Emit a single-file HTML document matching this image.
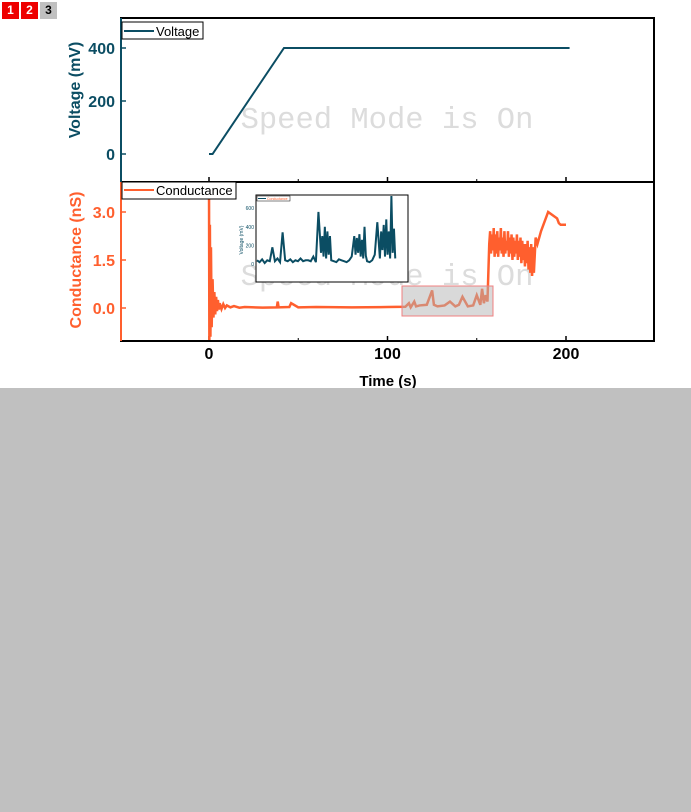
<!DOCTYPE html>
<html><head><meta charset="utf-8"><style>
body{margin:0;width:691px;height:812px;background:#fff;overflow:hidden;font-family:"Liberation Sans",sans-serif}
#gray{position:absolute;left:0;top:388px;width:691px;height:424px;background:#c0c0c0}
.tab{position:absolute;top:2px;width:17px;height:17px;font:bold 12px "Liberation Sans",sans-serif;text-align:center;line-height:17px}
</style></head><body>
<div class="tab" style="left:2px;background:#e00;color:#fff">1</div>
<div class="tab" style="left:21px;background:#e00;color:#fff">2</div>
<div class="tab" style="left:40px;background:#c0c0c0;color:#000">3</div>
<div id="gray"></div>
<svg id="c" width="691" height="388" style="position:absolute;left:0;top:0"></svg>
<script>
const xTicks=[0,100,200];
const vTicks=[0,200,400];
const gTicks=[0.0,1.5,3.0];
const vT=[0,2,42,202];
const vV=[0,0,400,400];
const gT=[0,0.2,0.5,0.8,1.1,1.5,2,2.5,3,3.5,4,4.5,5,5.5,6,7,8,9,10,12,14,17,20,30,38,38.5,39,45,46,50,60,80,100,110,112,113,115,116,118,122,125,126,128,132,135,138,140,142,145,148,150,152,153,154,155,156,157,157.5,158,158.5,159,159.5,160,160.5,161,161.5,162,162.5,163,163.5,164,164.5,165,165.5,166,166.5,167,167.5,168,168.5,169,169.5,170,170.5,171,171.5,172,172.5,173,173.5,174,174.5,175,175.5,176,176.5,177,177.5,178,178.5,179,179.5,180,180.5,181,181.5,182,183,184,186,190,195,196,197,200];
const gV=[3.9,-1,2.6,-0.9,1.9,-0.6,0.9,-0.3,0.5,-0.2,0.35,-0.1,0.25,-0.05,0.15,-0.03,0.12,0.0,0.08,0.02,0.06,0.01,0.03,0.01,0.02,0.2,0.02,0.03,0.15,0.02,0.03,0.02,0.03,0.04,0.15,0.02,0.2,0.05,0.08,0.1,0.55,0.1,0.05,0.08,0.2,0.05,0.1,0.35,0.05,0.08,0.4,0.1,0.6,0.15,0.4,0.2,2.0,2.4,1.7,2.3,1.8,2.5,1.6,2.3,1.7,2.4,1.6,2.2,1.8,2.5,1.7,2.2,1.6,2.4,1.7,2.1,1.8,2.4,1.6,2.2,1.7,2.3,1.5,2.2,1.6,2.1,1.7,2.3,1.5,2.1,1.6,2.2,1.4,2.1,1.5,2.0,1.3,2.0,1.4,2.1,1.2,1.9,1.1,2.0,1.0,1.9,1.1,2.2,2.0,2.4,3.0,2.8,2.65,2.6,2.6,2.7,2.7,2.7];
const insT=[0,2,4,6,8,10,12,14,16,18,20,22,24,26,28,30,32,34,36,38,40,42,44,46,48,50,51,52,53,54,55,56,57,58,60,62,64,66,68,70,72,74,76,77,78,79,80,81,82,83,84,85,86,88,90,92,94,96,97,98,99,100,101,102,103,104,105,106,107,108];
const insV=[40,20,50,10,40,30,180,30,60,20,340,40,30,50,20,40,30,60,30,40,40,30,80,20,560,120,300,80,400,60,350,100,300,40,30,20,50,40,30,20,40,80,300,100,280,120,320,80,260,60,400,90,30,20,40,100,450,60,350,150,420,80,480,100,350,60,800,120,380,60];
const X=t=>209+t*1.785, YV=v=>154-v*0.265, YG=g=>308-g*32;
const IX=t=>257+t*1.28, IY=v=>264-v*0.093;
const s=document.getElementById('c'),NS='http://www.w3.org/2000/svg';
function el(tag,a,txt){const e=document.createElementNS(NS,tag);for(const k in a)e.setAttribute(k,a[k]);if(txt!=null)e.textContent=txt;s.appendChild(e);return e;}
const teal='#0b4d63',org='#ff5f2e';
let e;
e=el('rect',{x:121,y:18,width:533,height:164,fill:'none',stroke:'#000','stroke-width':2});

e=el('rect',{x:121,y:182,width:533,height:159,fill:'none',stroke:'#000','stroke-width':2});

el('line',{x1:121,y1:18,x2:121,y2:182,stroke:teal,'stroke-width':2});
el('line',{x1:121,y1:182,x2:121,y2:341,stroke:org,'stroke-width':2});
[128,285].forEach(y=>{e=el('text',{x:387,y:y,'text-anchor':'middle','font-family':'Liberation Mono, monospace','font-size':30.5,fill:'#dcdcdc'},'Speed Mode is On');
});
xTicks.forEach(t=>{[182,341].forEach(y=>el('line',{x1:X(t),y1:y,x2:X(t),y2:y-5,stroke:'#000','stroke-width':1.5}));
e=el('text',{x:X(t),y:359,'text-anchor':'middle','font-weight':'bold','font-size':16},t);
});
[50,150].forEach(t=>[182,341].forEach(y=>el('line',{x1:X(t),y1:y,x2:X(t),y2:y-3,stroke:'#000'})));
e=el('text',{x:388,y:386,'text-anchor':'middle','font-weight':'bold','font-size':15},'Time (s)');

vTicks.forEach(v=>{el('line',{x1:121,y1:YV(v),x2:126,y2:YV(v),stroke:teal,'stroke-width':1.5});
e=el('text',{x:115,y:YV(v)+6,'text-anchor':'end','font-weight':'bold','font-size':16,fill:teal},v);
});
gTicks.forEach(v=>{el('line',{x1:121,y1:YG(v),x2:126,y2:YG(v),stroke:org,'stroke-width':1.5});
e=el('text',{x:115,y:YG(v)+6,'text-anchor':'end','font-weight':'bold','font-size':16,fill:org},v.toFixed(1));
});
e=el('text',{transform:'translate(80,90) rotate(-90)','text-anchor':'middle','font-weight':'bold','font-size':16,fill:teal},'Voltage (mV)');

e=el('text',{transform:'translate(81,260) rotate(-90)','text-anchor':'middle','font-weight':'bold','font-size':16,fill:org},'Conductance (nS)');

e=el('polyline',{points:vT.map((t,i)=>X(t)+','+YV(vV[i])).join(' '),fill:'none',stroke:teal,'stroke-width':2});

e=el('polyline',{points:gT.map((t,i)=>X(t)+','+YG(gV[i])).join(' '),fill:'none',stroke:org,'stroke-width':2.5});

e=el('rect',{x:402,y:286,width:91,height:30,fill:'rgba(180,180,180,0.5)',stroke:'#f08080'});

e=el('rect',{x:256,y:195,width:152,height:87,fill:'#fff',stroke:'#000'});

e=el('polyline',{points:insT.map((t,i)=>IX(t)+','+Math.max(196,IY(insV[i]))).join(' '),fill:'none',stroke:teal,'stroke-width':2});

[0,200,400,600].forEach(v=>{e=el('text',{x:254,y:IY(v)+2,'text-anchor':'end','font-size':5,fill:teal},v);
});
e=el('text',{transform:'translate(243,240) rotate(-90)','text-anchor':'middle','font-size':5,fill:teal},'Voltage (mV)');

el('rect',{x:257,y:196,width:33,height:5,fill:'#fff',stroke:'#000','stroke-width':0.5});
el('line',{x1:258,y1:198.5,x2:266,y2:198.5,stroke:teal});
e=el('text',{x:267,y:200,'font-size':3.5,fill:org},'Conductance');

e=el('rect',{x:122,y:22,width:81,height:17,fill:'#fff',stroke:'#000'});

el('line',{x1:124,y1:31,x2:154,y2:31,stroke:teal,'stroke-width':2});
el('text',{x:156,y:36,'font-size':13},'Voltage');
e=el('rect',{x:122,y:182,width:114,height:17,fill:'#fff',stroke:'#000'});

el('line',{x1:124,y1:190,x2:154,y2:190,stroke:org,'stroke-width':2});
el('text',{x:156,y:195,'font-size':13},'Conductance');
</script>
</body></html>
